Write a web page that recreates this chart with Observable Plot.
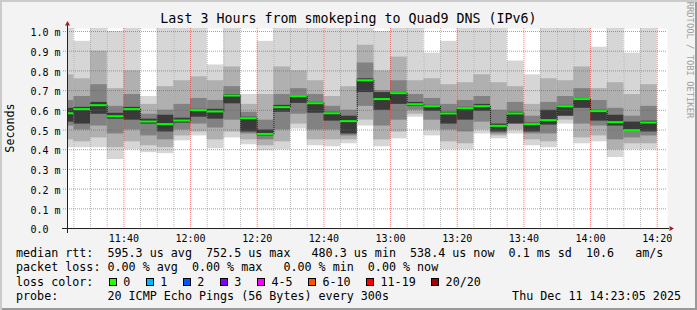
<!DOCTYPE html>
<html><head><meta charset="utf-8">
<script src="https://cdn.jsdelivr.net/npm/d3@7"></script>
<script src="https://cdn.jsdelivr.net/npm/@observablehq/plot@0.6"></script>
<style>
html,body{margin:0;padding:0;background:#f3f3f3}
#wrap{position:relative;width:697px;height:310px;background:#f3f3f3;overflow:hidden;font-family:"DejaVu Sans Mono",monospace;color:#000}
.abs{position:absolute;white-space:pre}
.leg{font-size:11.7px;line-height:14px}
#shade{position:absolute;left:0;top:0;width:697px;height:310px;box-shadow:inset 2px 2px 0 #cbcbcb, inset -2px -2px 0 #999;pointer-events:none}
</style></head><body>
<div id="wrap">
  <div id="chart" class="abs" style="left:0;top:0"></div>
  <div id="title" class="abs" style="left:0;width:697px;top:11px;text-align:center;font-size:13.3px;line-height:16px"></div>
  <div id="ytitle" class="abs" style="left:10px;top:128px;font-size:11.7px;line-height:12px;transform:translate(-50%,-50%) rotate(-90deg)"></div>
  <div id="credit" class="abs" style="left:689px;top:60px;font-size:8.8px;line-height:9px;color:#a0a0a0;transform:translate(-50%,-50%) rotate(90deg)"></div>
  <div id="l1" class="abs leg" style="left:16px;top:246px"></div>
  <div id="l2" class="abs leg" style="left:16px;top:260px"></div>
  <div id="l3" class="abs leg" style="left:16px;top:274.5px"></div>
  <div id="l4" class="abs leg" style="left:16px;top:289px"></div>
  <div id="l4r" class="abs leg" style="right:16px;top:289px"></div>
  <div id="shade"></div>
</div>
<script>
// ---- data (milliseconds) ----
const times = ["11:20","11:25","11:30","11:35","11:40","11:45","11:50","11:55","12:00","12:05",
  "12:10","12:15","12:20","12:25","12:30","12:35","12:40","12:45","12:50","12:55",
  "13:00","13:05","13:10","13:15","13:20","13:25","13:30","13:35","13:40","13:45",
  "13:50","13:55","14:00","14:05","14:10","14:15"];
const medianMs = [0.585,0.606,0.626,0.570,0.606,0.543,0.530,0.548,0.601,0.594,
  0.675,0.560,0.480,0.616,0.672,0.636,0.585,0.545,0.7525,0.657,
  0.687,0.631,0.621,0.584,0.611,0.621,0.521,0.584,0.530,0.550,
  0.621,0.657,0.596,0.540,0.499,0.538];
const minMs = [0.41,0.41,0.41,0.35,0.40,0.385,0.38,0.445,0.47,0.405,
  0.46,0.425,0.395,0.40,0.505,0.42,0.415,0.43,0.52,0.415,
  0.455,0.565,0.47,0.40,0.40,0.48,0.455,0.48,0.42,0.41,
  0.53,0.43,0.44,0.36,0.40,0.40];
const p10Ms = [0.45,0.44,0.46,0.41,0.44,0.42,0.41,0.47,0.49,0.45,
  0.49,0.45,0.42,0.44,0.53,0.45,0.45,0.45,0.55,0.45,
  0.49,0.58,0.50,0.44,0.43,0.50,0.47,0.50,0.45,0.44,
  0.55,0.46,0.47,0.40,0.43,0.43];
const p25Ms = [0.52,0.50,0.52,0.48,0.50,0.47,0.45,0.50,0.53,0.51,
  0.55,0.48,0.45,0.50,0.58,0.50,0.50,0.47,0.62,0.52,
  0.55,0.60,0.55,0.50,0.49,0.54,0.48,0.54,0.48,0.48,
  0.57,0.53,0.52,0.45,0.46,0.47];
const p40Ms = [0.54,0.53,0.58,0.555,0.55,0.53,0.49,0.535,0.565,0.555,
  0.633,0.49,0.47,0.59,0.635,0.585,0.545,0.48,0.69,0.60,
  0.63,0.62,0.595,0.53,0.55,0.595,0.49,0.53,0.49,0.525,
  0.57,0.61,0.545,0.52,0.495,0.49];
const p60Ms = [0.61,0.615,0.64,0.585,0.615,0.555,0.575,0.56,0.605,0.605,
  0.68,0.565,0.50,0.625,0.675,0.64,0.59,0.57,0.76,0.69,
  0.69,0.64,0.625,0.59,0.615,0.63,0.53,0.59,0.535,0.60,
  0.625,0.66,0.60,0.575,0.54,0.545];
const p75Ms = [0.65,0.67,0.73,0.62,0.68,0.58,0.60,0.63,0.66,0.65,
  0.72,0.59,0.55,0.68,0.71,0.68,0.62,0.60,0.84,0.70,
  0.75,0.68,0.66,0.63,0.65,0.67,0.60,0.64,0.57,0.64,
  0.67,0.71,0.65,0.61,0.57,0.62];
const p90Ms = [0.78,0.76,0.90,0.71,0.80,0.63,0.72,0.75,0.77,0.75,
  0.82,0.63,0.68,0.82,0.80,0.75,0.67,0.72,0.93,0.80,
  0.87,0.75,0.76,0.73,0.74,0.78,0.74,0.72,0.63,0.76,
  0.75,0.82,0.71,0.74,0.68,0.73];
const maxMs = [1.02,0.95,1.02,1.0,1.02,0.67,1.02,1.02,1.02,0.83,
  1.02,0.68,0.95,1.02,1.02,1.02,1.02,1.02,1.02,1.0,
  1.02,1.02,0.89,0.95,1.02,1.02,1.02,0.85,0.78,1.02,
  1.02,1.02,0.92,1.02,0.89,1.02];

const xTickLabels = ["11:40","12:00","12:20","12:40","13:00","13:20","13:40","14:00","14:20"];
const yTicks = [0,0.1,0.2,0.3,0.4,0.5,0.6,0.7,0.8,0.9,1.0];
const yTickLabels = ["0.0","0.1 m","0.2 m","0.3 m","0.4 m","0.5 m","0.6 m","0.7 m","0.8 m","0.9 m","1.0 m"];

const titleText = "Last 3 Hours from smokeping to Quad9 DNS (IPv6)";
const yTitle = "Seconds";
const creditText = "RRDTOOL / TOBI OETIKER";
const legendLine1 = "median rtt:  595.3 us avg  752.5 us max   480.3 us min  538.4 us now  0.1 ms sd  10.6   am/s";
const legendLine2 = "packet loss: 0.00 % avg  0.00 % max   0.00 % min  0.00 % now";
const lossTitle = "loss color:";
const lossLabels = ["0","1","2","3","4-5","6-10","11-19","20/20"];
const lossColors = ["#26ff00","#00b8ff","#0059ff","#7e00ff","#ff00ff","#ff5500","#ff0000","#a10000"];
const probeLine = "probe:       20 ICMP Echo Pings (56 Bytes) every 300s";
const stampText = "Thu Dec 11 14:23:05 2025";

// ---- build ----
const toDate = s => { const [h, m] = s.split(":").map(Number); return new Date(Date.UTC(2025, 11, 11, h, m)); };
const start = new Date(Date.UTC(2025, 11, 11, 11, 23, 5));
const end = new Date(Date.UTC(2025, 11, 11, 14, 23, 5));
const step = 5 * 60000;
const cols = times.map((t, i) => {
  const t0 = toDate(t);
  return {t0, t1: new Date(+t0 + step), min: minMs[i], p10: p10Ms[i], p25: p25Ms[i], p40: p40Ms[i],
    med: medianMs[i], p60: p60Ms[i], p75: p75Ms[i], p90: p90Ms[i], max: maxMs[i]};
});
const links = cols.slice(0, -1).map((c, i) => ({x: c.t1, y1: c.med, y2: cols[i + 1].med}));
const xTicks = xTickLabels.map(toDate);
const xLabelMap = new Map(xTicks.map((d, i) => [+d, xTickLabels[i]]));
const yLabelMap = new Map(yTicks.map((v, i) => [v, yTickLabels[i]]));
const minorX = d3.utcMinute.every(5).range(start, end).filter(d => d.getUTCMinutes() % 20 !== 0);
const yTop = 200 / 197;

const grid = {strokeDasharray: "1,1", strokeOpacity: 0.6};
const plot = Plot.plot({
  width: 697, height: 245,
  marginLeft: 67, marginRight: 30, marginTop: 28, marginBottom: 17,
  style: {background: "transparent", fontFamily: "DejaVu Sans Mono", fontSize: "10px", color: "#000", overflow: "visible"},
  x: {type: "utc", domain: [start, end]},
  y: {domain: [0, yTop]},
  marks: [
    Plot.frame({fill: "white", stroke: null}),
    Plot.rect(cols, {x1: "t0", x2: "t1", y1: "min", y2: "max", fill: "#d6d6d6", clip: true}),
    Plot.rect(cols, {x1: "t0", x2: "t1", y1: "p10", y2: "p90", fill: "#b0b0b0", clip: true}),
    Plot.rect(cols, {x1: "t0", x2: "t1", y1: "p25", y2: "p75", fill: "#828282", clip: true}),
    Plot.rect(cols, {x1: "t0", x2: "t1", y1: "p40", y2: "p60", fill: "#3a3a3a", clip: true}),
    Plot.ruleX(minorX, {stroke: "#8f8f8f", ...grid}),
    Plot.ruleX(xTicks, {stroke: "#de3030", ...grid}),
    Plot.ruleY(yTicks.slice(1), {stroke: "#de3030", insetLeft: -4, ...grid}),
    Plot.link(links, {x1: "x", x2: "x", y1: "y1", y2: "y2", stroke: "#111", strokeDasharray: "1,1", clip: true}),
    Plot.ruleY(cols, {x1: "t0", x2: "t1", y: "med", stroke: "#00ff00", strokeWidth: 2, clip: true}),
    Plot.ruleY([0], {stroke: "#222", insetLeft: -5, insetRight: -2}),
    Plot.ruleX([start], {stroke: "#222", insetTop: -3, insetBottom: -5}),
    Plot.dot([{x: start, y: yTop}], {x: "x", y: "y", symbol: "triangle", r: 1.9, fill: "#a02020", stroke: null, dy: -4.5}),
    Plot.dot([{x: end, y: 0}], {x: "x", y: "y", symbol: "triangle", r: 1.9, fill: "#a02020", stroke: null, rotate: 90, dx: 3.5}),
    Plot.axisX(xTicks, {tickFormat: d => xLabelMap.get(+d), tickSize: 0, tickPadding: 6, fontSize: 10}),
    Plot.axisY(yTicks, {tickFormat: d => yLabelMap.get(d), tickSize: 0, tickPadding: 0, textAnchor: "start", dx: -37, dy: 1.5, fontSize: 10})
  ]
});
document.getElementById("chart").appendChild(plot);

document.getElementById("title").textContent = titleText;
document.getElementById("ytitle").textContent = yTitle;
document.getElementById("credit").textContent = creditText;
document.getElementById("l1").textContent = legendLine1;
document.getElementById("l2").textContent = legendLine2;
document.getElementById("l4").textContent = probeLine;
document.getElementById("l4r").textContent = stampText;

// loss color legend line
const l3 = document.getElementById("l3");
const lt = document.createElement("span");
lt.className = "abs"; lt.style.left = "0px"; lt.style.top = "0px"; lt.textContent = lossTitle;
l3.appendChild(lt);
let bx = 108.7 - 16;
lossLabels.forEach((lab, i) => {
  const b = document.createElement("span");
  b.className = "abs";
  Object.assign(b.style, {left: bx + "px", top: "3.2px", width: "6px", height: "6px", border: "1px solid #000", background: lossColors[i]});
  l3.appendChild(b);
  const t = document.createElement("span");
  t.className = "abs"; t.style.left = (bx + 14.6) + "px"; t.style.top = "0px"; t.textContent = lab;
  l3.appendChild(t);
  bx = bx + 14.6 + lab.length * 7.02 + 15.4;
});
</script>
</body></html>
